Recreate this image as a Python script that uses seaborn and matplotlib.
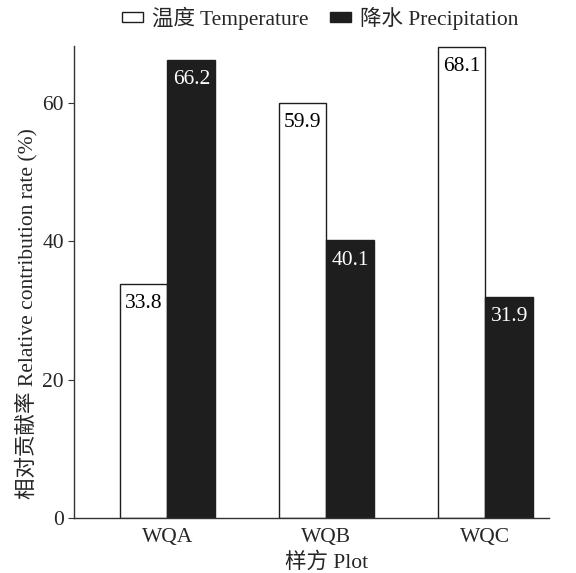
import matplotlib
matplotlib.use("Agg")
import matplotlib.pyplot as plt
import seaborn as sns
import pandas as pd

sns.set_theme()
sns.set_style("ticks")
plt.rcParams['font.family'] = ['Liberation Serif', 'Noto Sans CJK SC']
plt.rcParams['axes.unicode_minus'] = False

# Data
plots = ["WQA", "WQB", "WQC"]
temperature = [33.8, 59.9, 68.1]
precipitation = [66.2, 40.1, 31.9]
series_names = ["温度 Temperature", "降水 Precipitation"]

data = pd.DataFrame({
    "plot": plots * 2,
    "value": temperature + precipitation,
    "factor": [series_names[0]] * 3 + [series_names[1]] * 3,
})

fig = plt.figure(figsize=(5.76, 5.73), dpi=100)
ax = fig.add_axes([0.128, 0.096, 0.825, 0.824])

sns.barplot(
    data=data, x="plot", y="value", hue="factor",
    palette=["white", "#1e1e1e"], width=0.6, gap=0,
    edgecolor="#1e1e1e", linewidth=1.0, ax=ax,
)

# value labels inside the top of each bar
for container, color in zip(ax.containers, ["black", "white"]):
    ax.bar_label(container, fmt="%.1f", padding=-21, color=color, fontsize=15.5)

ax.set_xlim(-0.59, 2.40)
ax.set_ylim(0, 68.2)
ax.set_yticks([0, 20, 40, 60])
ax.tick_params(axis="y", labelsize=15.5, length=4, width=0.8, color="#333333", pad=3)
ax.tick_params(axis="x", labelsize=15.5, length=0, pad=7)
ax.set_xlabel("样方 Plot", fontsize=15.5)
ax.set_ylabel("相对贡献率 Relative contribution rate (%)", fontsize=15.5)
ax.xaxis.set_label_coords(0.533, -0.072)
ax.yaxis.set_label_coords(-0.076, 0.434)

for s in ["top", "right"]:
    ax.spines[s].set_visible(False)
for s in ["left", "bottom"]:
    ax.spines[s].set_color("#333333")
    ax.spines[s].set_linewidth(1.0)

leg = ax.legend(
    loc="lower center", bbox_to_anchor=(0.518, 1.016), ncol=2, frameon=False,
    fontsize=15.5, handlelength=1.0, handleheight=0.3, columnspacing=1.0,
    handletextpad=0.4, borderaxespad=0,
)

fig.savefig("out.png", dpi=100)
